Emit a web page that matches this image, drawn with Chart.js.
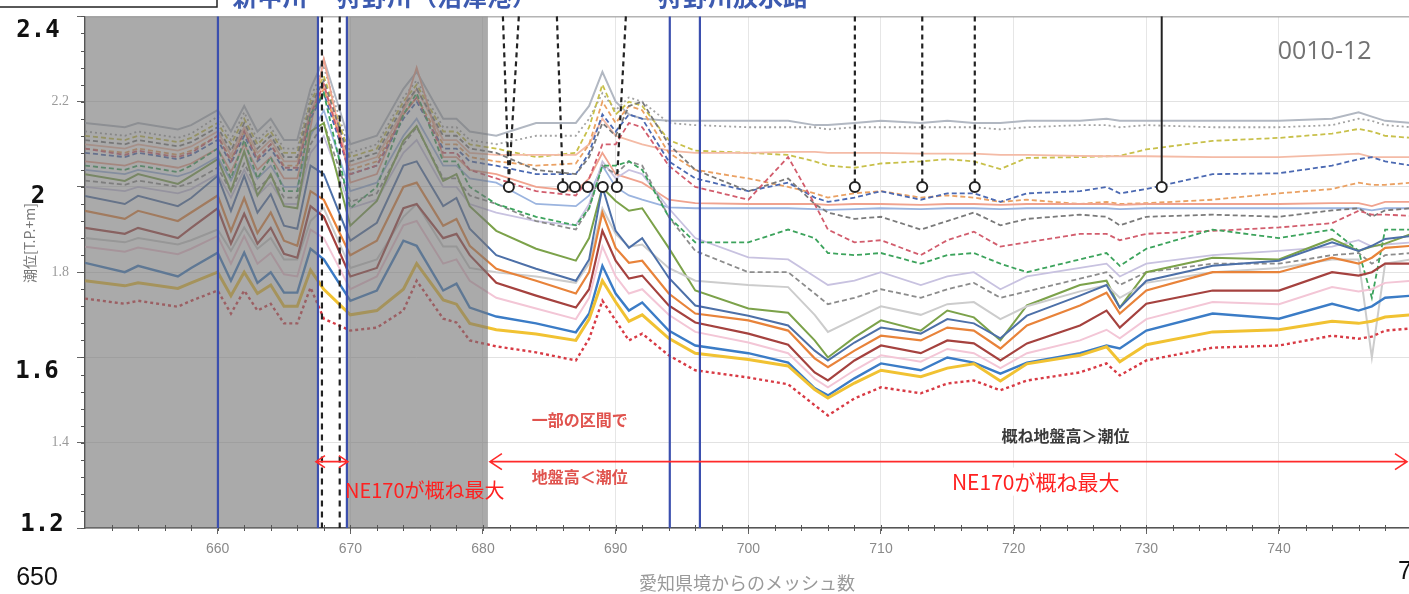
<!DOCTYPE html>
<html>
<head>
<meta charset="utf-8">
<script src="https://cdn.jsdelivr.net/npm/chart.js@4.4.1/dist/chart.umd.min.js"></script>
<style>
  html, body { margin: 0; padding: 0; background: #fff; }
  #wrap { width: 1409px; height: 594px; }
</style>
</head>
<body>
<div id="wrap"><canvas id="tideChart" width="1409" height="594"></canvas></div>
<script>
// ---- DATA ----
// mesh numbers counted from the Aichi border (shared x positions for every series)
const meshX = [650, 653, 654, 657, 658, 660, 661, 662, 663, 664, 665, 666, 667, 668, 670, 672, 674, 675, 677, 678, 679, 681,
    684, 687, 688, 689, 690, 691, 692, 694, 696, 700, 703, 705, 706, 708, 710, 713, 715, 717, 719, 721, 725, 727, 728, 730, 735, 740, 744, 746, 747, 748, 750];

// tide level series [T.P.+m], bottom of the bundle first
const redDotted = [1.738, 1.726, 1.733, 1.719, 1.733, 1.757, 1.703, 1.757, 1.710, 1.726, 1.680, 1.680, 1.764, 1.691, 1.663, 1.670, 1.710, 1.780, 1.691, 1.682, 1.640, 1.626,
    1.612, 1.593, 1.644, 1.733, 1.687, 1.640, 1.656, 1.605, 1.570, 1.553, 1.537, 1.488, 1.464, 1.504, 1.530, 1.516, 1.539, 1.546, 1.523, 1.546, 1.565, 1.586, 1.558, 1.593, 1.623, 1.628, 1.651, 1.644, 1.649, 1.663, 1.668];
const yellowSolid = [1.780, 1.768, 1.775, 1.762, 1.775, 1.800, 1.745, 1.800, 1.750, 1.770, 1.720, 1.720, 1.805, 1.760, 1.700, 1.710, 1.760, 1.820, 1.735, 1.725, 1.680, 1.665,
    1.655, 1.640, 1.690, 1.780, 1.730, 1.685, 1.700, 1.645, 1.610, 1.595, 1.580, 1.525, 1.505, 1.540, 1.570, 1.555, 1.575, 1.585, 1.545, 1.585, 1.605, 1.625, 1.590, 1.630, 1.660, 1.665, 1.685, 1.680, 1.685, 1.695, 1.700];
const blueSolid = [1.822, 1.800, 1.815, 1.790, 1.810, 1.846, 1.780, 1.846, 1.775, 1.800, 1.752, 1.752, 1.855, 1.830, 1.733, 1.757, 1.874, 1.862, 1.757, 1.773, 1.717, 1.696,
    1.680, 1.659, 1.703, 1.815, 1.750, 1.710, 1.729, 1.663, 1.628, 1.610, 1.588, 1.528, 1.511, 1.551, 1.586, 1.570, 1.600, 1.588, 1.562, 1.588, 1.610, 1.628, 1.621, 1.663, 1.703, 1.691, 1.726, 1.710, 1.720, 1.740, 1.745];
const pinkLight = [1.860, 1.848, 1.858, 1.842, 1.855, 1.885, 1.820, 1.885, 1.820, 1.845, 1.795, 1.790, 1.900, 1.880, 1.760, 1.790, 1.910, 1.920, 1.820, 1.830, 1.780, 1.740,
    1.715, 1.690, 1.740, 1.860, 1.790, 1.750, 1.760, 1.700, 1.660, 1.635, 1.610, 1.550, 1.530, 1.570, 1.605, 1.590, 1.620, 1.610, 1.575, 1.610, 1.640, 1.665, 1.645, 1.690, 1.730, 1.725, 1.765, 1.755, 1.760, 1.775, 1.780];
const brownSolid = [1.904, 1.890, 1.904, 1.880, 1.904, 1.950, 1.867, 1.937, 1.867, 1.904, 1.843, 1.834, 1.955, 1.930, 1.790, 1.810, 1.950, 1.960, 1.880, 1.890, 1.840, 1.775,
    1.745, 1.717, 1.760, 1.897, 1.827, 1.785, 1.792, 1.722, 1.682, 1.656, 1.630, 1.565, 1.546, 1.593, 1.628, 1.610, 1.640, 1.633, 1.593, 1.633, 1.675, 1.710, 1.670, 1.726, 1.757, 1.757, 1.800, 1.792, 1.800, 1.820, 1.820];
const orangeSolid = [1.944, 1.925, 1.944, 1.920, 1.940, 1.980, 1.897, 1.974, 1.892, 1.940, 1.874, 1.862, 1.990, 1.970, 1.840, 1.874, 2.000, 2.010, 1.909, 1.925, 1.862, 1.808,
    1.780, 1.750, 1.800, 1.940, 1.857, 1.822, 1.827, 1.750, 1.703, 1.687, 1.663, 1.598, 1.577, 1.616, 1.651, 1.640, 1.670, 1.663, 1.621, 1.675, 1.722, 1.752, 1.703, 1.757, 1.800, 1.800, 1.834, 1.820, 1.834, 1.857, 1.862];
const steelSolid = [1.979, 1.960, 1.979, 1.955, 1.974, 2.026, 1.944, 2.026, 1.940, 1.983, 1.909, 1.902, 2.050, 2.030, 1.874, 1.916, 2.050, 2.060, 1.955, 1.974, 1.902, 1.840,
    1.808, 1.780, 1.830, 2.000, 1.897, 1.857, 1.880, 1.787, 1.722, 1.698, 1.675, 1.616, 1.593, 1.635, 1.670, 1.656, 1.690, 1.680, 1.645, 1.698, 1.745, 1.770, 1.717, 1.780, 1.815, 1.827, 1.870, 1.850, 1.862, 1.878, 1.885];
const grayLight = [1.880, 1.870, 1.880, 1.865, 1.875, 1.900, 1.850, 1.905, 1.855, 1.880, 1.830, 1.830, 1.920, 1.950, 1.810, 1.830, 1.930, 1.960, 1.860, 1.860, 1.810, 1.800,
    1.790, 1.775, 1.820, 1.950, 1.890, 1.860, 1.865, 1.810, 1.780, 1.770, 1.765, 1.700, 1.660, 1.690, 1.720, 1.700, 1.725, 1.730, 1.690, 1.720, 1.755, 1.770, 1.740, 1.775, 1.800, 1.810, 1.830, 1.830, 1.600, 1.820, 1.830];
const oliveSolid = [2.030, 2.014, 2.030, 2.007, 2.026, 2.065, 1.990, 2.084, 1.980, 2.030, 1.955, 1.950, 2.130, 2.150, 1.909, 1.967, 2.108, 2.143, 2.014, 2.030, 1.955, 1.897,
    1.855, 1.827, 1.880, 1.998, 1.967, 1.944, 1.950, 1.857, 1.757, 1.715, 1.705, 1.640, 1.600, 1.647, 1.687, 1.663, 1.710, 1.694, 1.640, 1.722, 1.770, 1.780, 1.717, 1.800, 1.834, 1.830, 1.878, 1.850, 1.860, 1.867, 1.890];
const greenDashed = [2.050, 2.040, 2.050, 2.035, 2.050, 2.090, 2.020, 2.110, 2.020, 2.070, 1.990, 1.990, 2.170, 2.220, 1.950, 2.000, 2.170, 2.220, 2.060, 2.060, 2.000, 1.960,
    1.930, 1.910, 1.950, 2.050, 2.050, 2.060, 2.040, 1.930, 1.870, 1.870, 1.900, 1.880, 1.845, 1.840, 1.845, 1.820, 1.840, 1.845, 1.820, 1.800, 1.830, 1.845, 1.815, 1.855, 1.900, 1.880, 1.900, 1.850, 1.740, 1.900, 1.900];
const grayDashedB = [2.015, 2.005, 2.015, 2.000, 2.010, 2.045, 1.990, 2.055, 1.995, 2.025, 1.975, 1.975, 2.100, 2.150, 1.965, 1.985, 2.100, 2.140, 2.020, 2.020, 1.980, 1.960,
    1.920, 1.900, 1.950, 2.050, 2.030, 2.060, 2.050, 1.930, 1.850, 1.800, 1.800, 1.750, 1.725, 1.740, 1.760, 1.740, 1.760, 1.775, 1.740, 1.755, 1.785, 1.800, 1.770, 1.800, 1.820, 1.820, 1.840, 1.845, 1.820, 1.840, 1.845];
const lavenderSolid = [2.000, 1.990, 2.000, 1.985, 1.995, 2.030, 1.975, 2.040, 1.980, 2.010, 1.960, 1.960, 2.080, 2.120, 1.950, 1.970, 2.080, 2.110, 2.000, 2.000, 1.960, 1.940,
    1.920, 1.910, 1.960, 2.060, 2.020, 2.040, 2.030, 1.950, 1.880, 1.835, 1.830, 1.790, 1.770, 1.780, 1.800, 1.770, 1.790, 1.800, 1.760, 1.790, 1.810, 1.820, 1.790, 1.820, 1.840, 1.850, 1.860, 1.875, 1.860, 1.865, 1.870];
const pinkDashed = [2.090, 2.075, 2.085, 2.070, 2.080, 2.120, 2.060, 2.130, 2.065, 2.100, 2.045, 2.045, 2.170, 2.240, 2.030, 2.050, 2.170, 2.210, 2.080, 2.080, 2.040, 2.020,
    1.990, 1.980, 2.020, 2.100, 2.100, 2.150, 2.140, 2.050, 2.000, 1.970, 2.070, 1.960, 1.900, 1.870, 1.875, 1.840, 1.875, 1.895, 1.860, 1.870, 1.890, 1.890, 1.875, 1.890, 1.897, 1.905, 1.915, 1.944, 1.935, 1.935, 1.932];
const grayDashedA = [2.110, 2.100, 2.110, 2.095, 2.105, 2.140, 2.085, 2.150, 2.090, 2.120, 2.070, 2.070, 2.190, 2.250, 2.060, 2.080, 2.190, 2.230, 2.120, 2.120, 2.090, 2.080,
    2.040, 2.030, 2.070, 2.150, 2.120, 2.190, 2.200, 2.100, 2.040, 1.990, 2.020, 1.960, 1.940, 1.925, 1.930, 1.900, 1.920, 1.940, 1.910, 1.925, 1.935, 1.930, 1.910, 1.930, 1.935, 1.930, 1.945, 1.950, 1.930, 1.945, 1.950];
const blueDashed = [2.080, 2.070, 2.080, 2.065, 2.075, 2.110, 2.055, 2.120, 2.060, 2.090, 2.040, 2.040, 2.160, 2.220, 2.030, 2.050, 2.160, 2.200, 2.090, 2.090, 2.060, 2.050,
    2.030, 2.030, 2.080, 2.170, 2.130, 2.170, 2.160, 2.060, 2.020, 1.990, 2.010, 1.975, 1.965, 1.975, 1.990, 1.970, 1.985, 1.985, 1.965, 1.985, 1.990, 2.000, 1.985, 1.995, 2.030, 2.032, 2.050, 2.065, 2.070, 2.060, 2.050];
const salmonSolid = [2.060, 2.050, 2.060, 2.045, 2.055, 2.090, 2.035, 2.100, 2.040, 2.070, 2.020, 2.020, 2.140, 2.300, 2.010, 2.030, 2.180, 2.280, 2.070, 2.070, 2.040, 2.030,
    2.000, 1.990, 2.020, 2.080, 2.030, 2.020, 2.010, 1.970, 1.962, 1.960, 1.960, 1.960, 1.958, 1.960, 1.960, 1.958, 1.960, 1.960, 1.958, 1.960, 1.960, 1.960, 1.958, 1.960, 1.960, 1.960, 1.962, 1.962, 1.955, 1.965, 1.965];
const lightBlueSolid = [2.040, 2.030, 2.040, 2.025, 2.035, 2.070, 2.015, 2.080, 2.020, 2.050, 2.000, 2.000, 2.120, 2.180, 1.990, 2.010, 2.120, 2.160, 2.050, 2.050, 2.020, 2.010,
    1.960, 1.955, 1.980, 2.050, 2.000, 1.980, 1.970, 1.952, 1.950, 1.950, 1.950, 1.948, 1.946, 1.948, 1.950, 1.948, 1.950, 1.950, 1.948, 1.950, 1.950, 1.950, 1.948, 1.950, 1.950, 1.950, 1.950, 1.950, 1.945, 1.950, 1.950];
const orangeDashed = [2.090, 2.080, 2.090, 2.075, 2.085, 2.120, 2.065, 2.130, 2.070, 2.100, 2.050, 2.050, 2.170, 2.230, 2.040, 2.060, 2.170, 2.210, 2.100, 2.100, 2.070, 2.060,
    2.050, 2.055, 2.100, 2.200, 2.150, 2.190, 2.180, 2.080, 2.040, 2.020, 2.000, 1.985, 1.975, 1.985, 1.990, 1.975, 1.980, 1.975, 1.965, 1.970, 1.960, 1.965, 1.960, 1.962, 1.970, 1.985, 1.995, 2.010, 2.005, 2.005, 2.010];
const peachSolid = [2.100, 2.090, 2.100, 2.085, 2.095, 2.130, 2.075, 2.140, 2.080, 2.110, 2.060, 2.060, 2.180, 2.240, 2.050, 2.070, 2.180, 2.230, 2.110, 2.110, 2.080, 2.075,
    2.075, 2.075, 2.100, 2.160, 2.120, 2.110, 2.100, 2.085, 2.080, 2.080, 2.082, 2.082, 2.080, 2.080, 2.080, 2.078, 2.078, 2.078, 2.075, 2.075, 2.073, 2.072, 2.072, 2.072, 2.070, 2.070, 2.075, 2.078, 2.070, 2.070, 2.070];
const yellowDashed = [2.120, 2.110, 2.120, 2.105, 2.115, 2.150, 2.100, 2.160, 2.100, 2.130, 2.080, 2.080, 2.200, 2.260, 2.070, 2.090, 2.200, 2.240, 2.130, 2.130, 2.100, 2.090,
    2.070, 2.080, 2.140, 2.240, 2.170, 2.200, 2.190, 2.110, 2.085, 2.080, 2.075, 2.060, 2.050, 2.045, 2.055, 2.060, 2.065, 2.060, 2.042, 2.068, 2.070, 2.072, 2.073, 2.088, 2.108, 2.115, 2.125, 2.136, 2.130, 2.120, 2.115];
const grayDotted = [2.130, 2.120, 2.130, 2.115, 2.125, 2.165, 2.110, 2.175, 2.110, 2.140, 2.090, 2.090, 2.210, 2.280, 2.080, 2.100, 2.210, 2.250, 2.140, 2.140, 2.110, 2.100,
    2.120, 2.120, 2.160, 2.220, 2.180, 2.210, 2.200, 2.150, 2.145, 2.140, 2.140, 2.140, 2.135, 2.140, 2.140, 2.140, 2.140, 2.140, 2.135, 2.140, 2.145, 2.145, 2.140, 2.145, 2.140, 2.140, 2.145, 2.160, 2.155, 2.145, 2.140];
const graySolid = [2.150, 2.140, 2.150, 2.135, 2.145, 2.180, 2.130, 2.190, 2.130, 2.160, 2.110, 2.110, 2.230, 2.300, 2.100, 2.120, 2.230, 2.270, 2.160, 2.160, 2.130, 2.120,
    2.150, 2.150, 2.190, 2.270, 2.200, 2.170, 2.160, 2.155, 2.155, 2.155, 2.155, 2.145, 2.145, 2.150, 2.155, 2.150, 2.155, 2.150, 2.150, 2.155, 2.155, 2.160, 2.155, 2.155, 2.155, 2.155, 2.160, 2.175, 2.165, 2.155, 2.150];

// axis ticks
const xTicks = [660, 670, 680, 690, 700, 710, 720, 730, 740];
const yTickLabels = [2.2, 1.8, 1.4];
const bigYLabels = ['2.4', '2', '1.6', '1.2'];

// map features (mesh numbers)
const riverLines = [660.02, 667.56, 669.74, 694.08, 696.35];
const shadedRanges = [[650, 667.56], [669.74, 680.37]];
const stripDashes = [667.86, 669.2];
const calloutLines = [[681.5, 681.95], [682.7, 681.95], [685.57, 686.02], [690.77, 690.09], [708.03, 708.03], [713.11, 713.11], [717.07, 717.07]];
const calloutSolid = [[731.16, 731.16]];
const calloutCircles = [681.95, 686.02, 686.93, 687.9, 689.03, 690.09, 708.03, 713.11, 717.07, 731.16];
const calloutLevel = 2.0;
const riverNames = ['新中川', '狩野川（沼津港）', '狩野川放水路'];

// ---- CHART ----
function series(label, values, color, width, dash) {
    return {
        label: label,
        data: meshX.map((m, i) => ({ x: m, y: values[i] })),
        borderColor: color,
        borderWidth: width,
        borderDash: dash || [],
        pointRadius: 0,
        tension: 0,
        fill: false
    };
}

const datasets = [
    series('redDotted', redDotted, '#d83a44', 2.4, [3, 3]),
    series('yellowSolid', yellowSolid, '#f1c232', 3),
    series('blueSolid', blueSolid, '#3b7cc6', 2.4),
    series('pinkLight', pinkLight, '#f3c6d6', 2),
    series('brownSolid', brownSolid, '#a5423f', 2.2),
    series('orangeSolid', orangeSolid, '#e8833a', 2.2),
    series('steelSolid', steelSolid, '#4d70a8', 2),
    series('grayLight', grayLight, '#cccccc', 2),
    series('oliveSolid', oliveSolid, '#7ca24a', 2),
    series('greenDashed', greenDashed, '#3ca35c', 1.8, [5, 3]),
    series('grayDashedB', grayDashedB, '#8c8c8c', 1.8, [5, 3]),
    series('lavenderSolid', lavenderSolid, '#c8c2e0', 1.8),
    series('pinkDashed', pinkDashed, '#d25d6d', 1.8, [5, 3]),
    series('grayDashedA', grayDashedA, '#7a7a7a', 1.8, [5, 3]),
    series('blueDashed', blueDashed, '#4b69b2', 1.8, [5, 3]),
    series('salmonSolid', salmonSolid, '#f0a38f', 1.8),
    series('lightBlueSolid', lightBlueSolid, '#9bb4df', 1.8),
    series('orangeDashed', orangeDashed, '#eaa163', 1.8, [5, 3]),
    series('peachSolid', peachSolid, '#f4bba6', 1.8),
    series('yellowDashed', yellowDashed, '#c8c04a', 1.8, [5, 3]),
    series('grayDotted', grayDotted, '#a3a3a3', 1.8, [2, 3]),
    series('graySolid', graySolid, '#b2b8c2', 2)
];

const CJK = '"Noto Sans CJK JP", "Noto Sans", sans-serif';

// background, shading, river markers and notes
const mapOverlay = {
    id: 'mapOverlay',
    beforeDraw(chart) {
        const ctx = chart.ctx;
        ctx.save();
        ctx.fillStyle = '#fff';
        ctx.fillRect(0, 0, chart.width, chart.height);
        ctx.restore();
    },
    afterDatasetsDraw(chart) {
        const { ctx, chartArea: a, scales: { x, y } } = chart;
        const px = m => x.getPixelForValue(m);
        const py = v => y.getPixelForValue(v);
        ctx.save();

        // gray shaded sections
        ctx.fillStyle = 'rgba(118,118,118,0.62)';
        shadedRanges.forEach(([m0, m1]) => ctx.fillRect(px(m0), a.top, px(m1) - px(m0), a.bottom - a.top));

        // top frame line
        ctx.strokeStyle = '#999';
        ctx.lineWidth = 1;
        ctx.beginPath();
        ctx.moveTo(a.left, a.top + 0.5);
        ctx.lineTo(a.right, a.top + 0.5);
        ctx.stroke();

        // minor ticks
        ctx.strokeStyle = '#555';
        ctx.beginPath();
        for (let v = 1.2; v <= 2.401; v += 0.04) {
            ctx.moveTo(a.left - 4, Math.round(py(v)) + 0.5);
            ctx.lineTo(a.left, Math.round(py(v)) + 0.5);
        }
        for (let m = 652; m < 750; m += 2) {
            ctx.moveTo(Math.round(px(m)) + 0.5, a.bottom - 3);
            ctx.lineTo(Math.round(px(m)) + 0.5, a.bottom + 3);
        }
        ctx.stroke();

        // dashed lines in the white strip
        ctx.strokeStyle = '#222';
        ctx.lineWidth = 2.2;
        ctx.setLineDash([6, 5]);
        stripDashes.forEach(m => {
            ctx.beginPath();
            ctx.moveTo(px(m), a.top);
            ctx.lineTo(px(m), a.bottom);
            ctx.stroke();
        });

        // river / floodway lines
        ctx.setLineDash([]);
        ctx.strokeStyle = '#3b4fae';
        ctx.lineWidth = 2.2;
        riverLines.forEach(m => {
            ctx.beginPath();
            ctx.moveTo(px(m), a.top);
            ctx.lineTo(px(m), a.bottom);
            ctx.stroke();
        });

        // callout lines down to circles
        ctx.strokeStyle = '#222';
        ctx.lineWidth = 2.2;
        ctx.setLineDash([5, 4]);
        calloutLines.forEach(([m0, m1]) => {
            ctx.beginPath();
            ctx.moveTo(px(m0), a.top);
            ctx.lineTo(px(m1), py(calloutLevel) - 5);
            ctx.stroke();
        });
        ctx.setLineDash([]);
        ctx.lineWidth = 2;
        calloutSolid.forEach(([m0, m1]) => {
            ctx.beginPath();
            ctx.moveTo(px(m0), a.top);
            ctx.lineTo(px(m1), py(calloutLevel) - 5);
            ctx.stroke();
        });
        calloutCircles.forEach(m => {
            ctx.beginPath();
            ctx.arc(px(m), py(calloutLevel), 5, 0, Math.PI * 2);
            ctx.fillStyle = '#fff';
            ctx.fill();
            ctx.stroke();
        });

        // notes
        ctx.textAlign = 'center';
        ctx.textBaseline = 'middle';
        ctx.fillStyle = '#e0534e';
        ctx.font = 'bold 16px ' + CJK;
        ctx.fillText('一部の区間で', px(687.3), py(1.4535));
        ctx.fillText('地盤高＜潮位', px(687.3), py(1.3205));
        ctx.fillStyle = '#3a3a3a';
        ctx.fillText('概ね地盤高＞潮位', px(723.9), py(1.4164));

        ctx.fillStyle = '#727272';
        ctx.font = '25px "Open Sans", "Liberation Sans", sans-serif';
        ctx.fillText('0010-12', px(743.44), py(2.317));

        // red arrows
        const arrowY = py(1.3556);
        ctx.strokeStyle = '#ff2a2a';
        ctx.lineWidth = 1.6;
        const head = (hx, dir, len, half) => {
            ctx.moveTo(hx - dir * len, arrowY - half);
            ctx.lineTo(hx, arrowY);
            ctx.lineTo(hx - dir * len, arrowY + half);
        };
        const left = px(680.37) + 2, right = chart.width - 2;
        ctx.beginPath();
        ctx.moveTo(left, arrowY);
        ctx.lineTo(right, arrowY);
        head(left, -1, 12, 8);
        head(right, 1, 12, 8);
        const sl = px(667.56) - 2, sr = px(669.74) + 1;
        ctx.moveTo(sl, arrowY);
        ctx.lineTo(sr, arrowY);
        head(sl, -1, 9, 6);
        head(sr, 1, 9, 6);
        ctx.stroke();

        ctx.font = '20px ' + CJK;
        ctx.textAlign = 'left';
        ctx.fillStyle = '#ff2020';
        ctx.fillText('NE170が概ね最大', px(669.6), py(1.2877));
        ctx.font = '21px ' + CJK;
        ctx.textAlign = 'center';
        const tw = ctx.measureText('NE170が概ね最大').width;
        ctx.fillStyle = '#fff';
        ctx.fillRect(px(721.66) - tw / 2 - 16, py(1.3088) - 14, tw + 32, 28);
        ctx.fillStyle = '#ff2020';
        ctx.fillText('NE170が概ね最大', px(721.66), py(1.3088));

        ctx.restore();
    },
    afterDraw(chart) {
        const ctx = chart.ctx;
        ctx.save();

        // pasted-on axis labels
        ctx.fillStyle = '#111';
        ctx.font = 'bold 24px "DejaVu Sans Mono", monospace';
        ctx.textAlign = 'center';
        ctx.textBaseline = 'middle';
        ctx.fillText(bigYLabels[0], 38, 31);
        ctx.fillText(bigYLabels[1], 38, 197);
        ctx.fillText(bigYLabels[2], 37, 372);
        ctx.fillText(bigYLabels[3], 42, 525);
        ctx.font = '25px "Liberation Sans Narrow", "Liberation Sans", sans-serif';
        ctx.fillText('650', 37, 578);
        ctx.textAlign = 'left';
        ctx.fillText('7', 1398, 572);

        // y axis title
        ctx.save();
        ctx.translate(30, 243);
        ctx.rotate(-Math.PI / 2);
        ctx.textAlign = 'center';
        ctx.fillStyle = '#777';
        ctx.font = '14px ' + CJK;
        ctx.fillText('潮位[T.P.+m]', 0, 0);
        ctx.restore();

        // frame at top left and clipped river names
        ctx.strokeStyle = '#222';
        ctx.lineWidth = 1.5;
        ctx.strokeRect(-2, -20, 219, 27);
        ctx.fillStyle = '#3d5bb0';
        ctx.font = 'bold 25px ' + CJK;
        ctx.textAlign = 'center';
        ctx.textBaseline = 'alphabetic';
        ctx.fillText(riverNames[0], 270, 6);
        ctx.fillText(riverNames[1], 437, 6);
        ctx.fillText(riverNames[2], 733, 6);
        ctx.restore();
    }
};

new Chart(document.getElementById('tideChart'), {
    type: 'line',
    data: { datasets: datasets },
    options: {
        responsive: false,
        animation: false,
        devicePixelRatio: 1,
        layout: { padding: { top: 15, right: 0, bottom: 0, left: 0 } },
        plugins: {
            legend: { display: false },
            tooltip: { enabled: false }
        },
        scales: {
            x: {
                type: 'linear',
                min: 650,
                max: 749.8,
                afterBuildTicks: axis => { axis.ticks = xTicks.map(v => ({ value: v })); },
                afterFit: axis => { axis.height = 66; },
                ticks: {
                    color: '#8a8a8a',
                    font: { size: 14, family: '"Liberation Sans Narrow", "Liberation Sans", sans-serif' },
                    padding: 7,
                    maxRotation: 0
                },
                grid: { color: '#e6e6e6', tickColor: '#666', tickLength: 6 },
                border: { display: true, color: '#555', width: 1.5 },
                title: {
                    display: true,
                    text: '愛知県境からのメッシュ数',
                    color: '#9a9a9a',
                    font: { size: 18, family: CJK },
                    padding: { top: 0, bottom: 0 }
                }
            },
            y: {
                min: 1.2,
                max: 2.4,
                afterFit: axis => { axis.width = 85; },
                ticks: {
                    stepSize: 0.2,
                    color: '#9a9a9a',
                    font: { size: 14, family: '"Liberation Serif", serif' },
                    padding: 8,
                    callback: v => yTickLabels.some(t => Math.abs(t - v) < 1e-6) ? v.toFixed(1) : ''
                },
                grid: { color: '#e2e2e2', tickColor: '#666', tickLength: 8 },
                border: { display: true, color: '#555', width: 1.5 }
            }
        }
    },
    plugins: [mapOverlay]
});
</script>
</body>
</html>
